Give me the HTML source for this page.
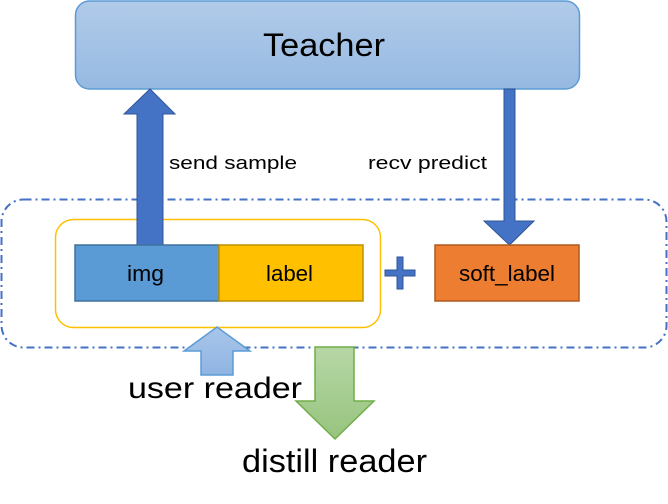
<!DOCTYPE html>
<html><head><meta charset="utf-8"><style>
html,body{margin:0;padding:0;background:#fff;width:668px;height:504px;overflow:hidden}
text{font-family:"Liberation Sans",sans-serif;fill:#000}
</style></head><body>
<svg width="668" height="504" viewBox="0 0 668 504" xmlns="http://www.w3.org/2000/svg">
<defs>
<linearGradient id="tg" x1="0" y1="0" x2="0" y2="1"><stop offset="0" stop-color="#b1cbe9"/><stop offset="1" stop-color="#96b9e2"/></linearGradient>
<linearGradient id="ug" x1="0" y1="0" x2="0" y2="1"><stop offset="0" stop-color="#a9c6ea"/><stop offset="1" stop-color="#8fb4e2"/></linearGradient>
<linearGradient id="gg" x1="0" y1="0" x2="0" y2="1"><stop offset="0" stop-color="#b7d7a6"/><stop offset="1" stop-color="#97c47e"/></linearGradient>
</defs>
<rect x="75.5" y="1" width="504" height="88" rx="14" fill="url(#tg)" stroke="#5b9bd5" stroke-width="1.5"/>
<text x="263" y="56" font-size="32" textLength="122" lengthAdjust="spacingAndGlyphs">Teacher</text>

<rect x="1.5" y="199.5" width="665" height="148" rx="22" fill="none" stroke="#4472c4" stroke-width="2" stroke-dasharray="8,4,2,4"/>

<rect x="55.5" y="219.5" width="325" height="108" rx="18" fill="none" stroke="#ffc000" stroke-width="1.5"/>

<polygon points="137,245 137,114 124,114 150,89 175,114 163,114 163,245" fill="#4472c4" stroke="#2f5597" stroke-width="1"/>
<polygon points="504,89 515,89 515,221 534,221 509.5,245 484,221 504,221" fill="#4472c4" stroke="#2f5597" stroke-width="1"/>

<text x="169" y="169" font-size="18" textLength="128" lengthAdjust="spacingAndGlyphs">send sample</text>
<text x="368" y="169" font-size="18" textLength="119" lengthAdjust="spacingAndGlyphs">recv predict</text>

<rect x="75" y="245" width="144" height="56" fill="#5b9bd5" stroke="#41719c" stroke-width="1.5"/>
<rect x="219" y="245" width="144" height="56" fill="#ffc000" stroke="#bf9000" stroke-width="1.5"/>
<text x="127" y="281" font-size="22" textLength="37" lengthAdjust="spacingAndGlyphs">img</text>
<text x="266" y="281" font-size="22" textLength="47" lengthAdjust="spacingAndGlyphs">label</text>

<polygon points="397,257 403,257 403,270 415,270 415,276 403,276 403,289 397,289 397,276 385,276 385,270 397,270" fill="#4472c4" stroke="#2f5597" stroke-width="1"/>

<rect x="435" y="245" width="144" height="56" fill="#ed7d31" stroke="#ae5a21" stroke-width="1.5"/>
<text x="507" y="281" font-size="22" text-anchor="middle" textLength="96" lengthAdjust="spacingAndGlyphs">soft_label</text>

<polygon points="201,375 201,351 184,351 217,327 250,351 233,351 233,375" fill="url(#ug)" stroke="#5b9bd5" stroke-width="1.5"/>
<text x="128" y="398" font-size="30" textLength="174" lengthAdjust="spacingAndGlyphs">user reader</text>
<polygon points="315,347 354,347 354,401 374,401 335,439 296,401 315,401" fill="url(#gg)" stroke="#70ad47" stroke-width="1.5"/>
<text x="242" y="472" font-size="32" textLength="185" lengthAdjust="spacingAndGlyphs">distill reader</text>
</svg>
</body></html>
